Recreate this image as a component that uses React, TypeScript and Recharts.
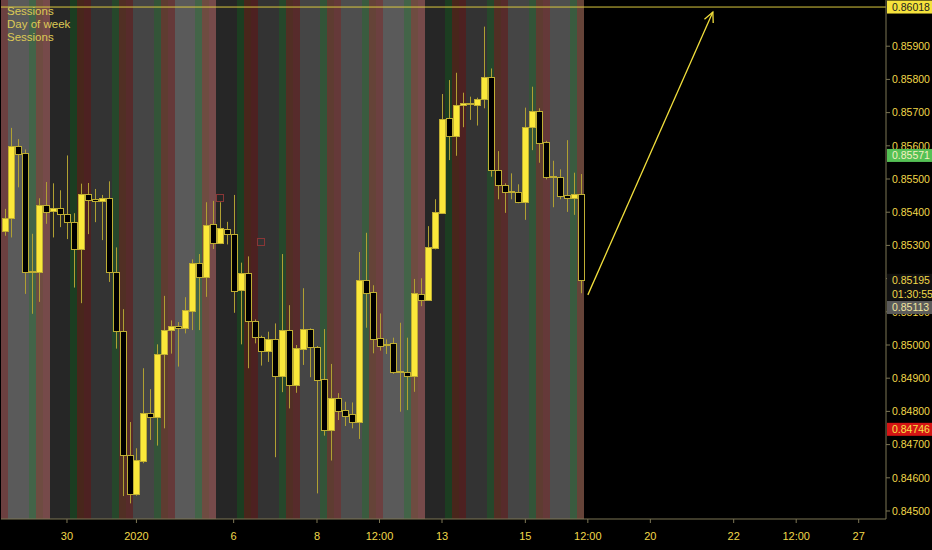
import React from "react";
import { ComposedChart, Bar, Line, XAxis, YAxis, ReferenceLine } from "recharts";

// 4H candles (slot 0 .. 83)
const OPEN = [
  0.85344, 0.85382, 0.856, 0.85577, 0.85221, 0.8522, 0.85421, 0.85404, 0.85412, 0.85395,
  0.8537, 0.85289, 0.85456, 0.8544, 0.85434, 0.85443, 0.85221, 0.85041, 0.8467, 0.84552,
  0.84651, 0.84796, 0.84783, 0.84972, 0.85044, 0.85058, 0.8505, 0.85103, 0.85248, 0.85204,
  0.85364, 0.85306, 0.85348, 0.85333, 0.85165, 0.85216, 0.85073, 0.85024, 0.84981, 0.85017,
  0.84906, 0.85045, 0.8488, 0.84987, 0.85047, 0.84995, 0.84897, 0.84745, 0.84841, 0.84804,
  0.84791, 0.84767, 0.85195, 0.8516, 0.8502, 0.85002, 0.85005, 0.8492, 0.84918, 0.84907,
  0.85154, 0.85136, 0.85291, 0.85398, 0.85683, 0.8563, 0.85722, 0.85728, 0.85724, 0.8574,
  0.85808, 0.85527, 0.85482, 0.85463, 0.8546, 0.85432, 0.85656, 0.85706, 0.85611, 0.85509,
  0.85506, 0.85452, 0.85443, 0.85455,
];
const HIGH = [
  0.8541, 0.85654, 0.8562, 0.85589, 0.85335, 0.85442, 0.85491, 0.85487, 0.85466, 0.85571,
  0.85397, 0.85486, 0.85488, 0.8547, 0.85452, 0.85493, 0.85294, 0.85108, 0.84768, 0.84689,
  0.8493, 0.84867, 0.85002, 0.85148, 0.85074, 0.85069, 0.85144, 0.85258, 0.85274, 0.8543,
  0.85434, 0.8543, 0.85371, 0.85452, 0.85248, 0.85267, 0.85077, 0.85028, 0.8504, 0.85065,
  0.85274, 0.8512, 0.85, 0.85171, 0.8505, 0.84997, 0.85048, 0.84943, 0.84855, 0.84829,
  0.84827, 0.8528, 0.85338, 0.8518, 0.85095, 0.85017, 0.85022, 0.85067, 0.85022, 0.85199,
  0.85201, 0.85358, 0.85439, 0.85756, 0.85798, 0.8582, 0.8576, 0.85748, 0.85745, 0.85959,
  0.85833, 0.85584, 0.85487, 0.85517, 0.85484, 0.85715, 0.85778, 0.85713, 0.85615, 0.85555,
  0.85529, 0.85617, 0.85519, 0.85515,
];
const LOW = [
  0.85329, 0.85324, 0.85475, 0.85154, 0.85094, 0.8513, 0.85365, 0.85324, 0.85355, 0.85319,
  0.85173, 0.85126, 0.85334, 0.8537, 0.85316, 0.8519, 0.84989, 0.84545, 0.84523, 0.84546,
  0.84644, 0.84714, 0.84697, 0.84749, 0.84974, 0.84935, 0.85035, 0.85045, 0.85045, 0.85145,
  0.85289, 0.85304, 0.85303, 0.85097, 0.85002, 0.8493, 0.85005, 0.84938, 0.84949, 0.84662,
  0.84858, 0.84809, 0.84856, 0.8494, 0.84903, 0.84553, 0.84727, 0.84652, 0.84774, 0.84756,
  0.84749, 0.84717, 0.85052, 0.84975, 0.84983, 0.84973, 0.84913, 0.84799, 0.84804, 0.84859,
  0.85117, 0.85133, 0.85288, 0.85395, 0.85557, 0.8557, 0.85656, 0.85678, 0.85661, 0.85713,
  0.85507, 0.85439, 0.85398, 0.85439, 0.85427, 0.85377, 0.85587, 0.85549, 0.85499, 0.85415,
  0.85439, 0.85401, 0.85392, 0.85156,
];
const CLOSE = [
  0.85383, 0.856, 0.85575, 0.85221, 0.85223, 0.85421, 0.85401, 0.85412, 0.85395, 0.8537,
  0.85289, 0.85456, 0.85438, 0.85434, 0.85443, 0.85221, 0.85041, 0.8467, 0.84552, 0.84653,
  0.84796, 0.84783, 0.84973, 0.85045, 0.85057, 0.85052, 0.85105, 0.85248, 0.85204, 0.85361,
  0.85306, 0.85352, 0.85333, 0.85163, 0.85216, 0.85073, 0.85023, 0.84981, 0.85017, 0.84906,
  0.85045, 0.8488, 0.8499, 0.85047, 0.84994, 0.84895, 0.84745, 0.84841, 0.84802, 0.84787,
  0.84767, 0.85195, 0.85158, 0.85018, 0.84998, 0.85001, 0.84918, 0.84921, 0.84907, 0.85156,
  0.85136, 0.85295, 0.85401, 0.85681, 0.8563, 0.85723, 0.85728, 0.85729, 0.85741, 0.85806,
  0.85527, 0.85482, 0.85462, 0.85462, 0.85432, 0.85656, 0.85706, 0.85609, 0.85507, 0.85508,
  0.85449, 0.85442, 0.85455, 0.85195,
];

// "Day of week" indicator: one entry per 6-candle trading day (first one is the day before slot 1)
const DAY_OF_GROUP = ["Thu", "Fri", "Mon", "Tue", "Wed", "Fri", "Mon", "Tue", "Wed", "Thu", "Fri", "Mon", "Tue", "Wed", "Thu"];
// "Sessions" indicator: which session each 4H slot of a trading day falls into
const SESSION_OF_POS = ["", "", "", "london", "overlap", "newyork"];

// little square markers of the second indicator
const MARK_SLOTS = [31, 37];
const MARK_PRICES = [0.85443, 0.8531];

const X_TICKS = [9, 19, 33, 45, 54, 63, 75, 84, 93, 105, 114, 123];
const X_TICK_LABELS = ["30", "2020", "6", "8", "12:00", "13", "15", "12:00", "20", "22", "12:00", "27"];
const Y_TICKS = [0.845, 0.846, 0.847, 0.848, 0.849, 0.85, 0.851, 0.852, 0.853, 0.854, 0.855, 0.856, 0.857, 0.858, 0.859];

const ALERT_PRICE = 0.86018;
const SESSION_HIGH = 0.85571;
const LAST_PRICE = 0.85195;
const COUNTDOWN = "01:30:55";
const PREV_CLOSE = 0.85113;
const SESSION_LOW = 0.84746;

const ARROW_FROM = { slot: 84, price: 0.85151 };
const ARROW_TO = { slot: 102, price: 0.86003 };

const SLOT_COUNT = 127;
const Y_MIN = 0.844759;
const Y_MAX = 0.860392;

const TEXT = "#f0d84a";
const AXIS = "#7d7655";
const BULL = "#fbe83a";
const EDGE = "#bfae34";
const WICK = "#b0a032";
const FONT = "'Liberation Sans Narrow', 'Liberation Sans', Arial, sans-serif";
const CHART_MARGIN = { top: 0, right: 0, bottom: 0, left: 1 };
const X_PAD = { left: 0, right: 3 };

const DAY_SHADE: Record<string, string> = {
  Mon: "#262626",
  Tue: "#333333",
  Wed: "#454545",
  Thu: "#4e4e4e",
  Fri: "#5a5a5a",
};
const SESSION_FILL: Record<string, string> = {
  london: "rgba(0,130,20,0.25)",
  overlap: "rgba(160,40,0,0.28)",
  newyork: "rgba(220,20,20,0.22)",
};

const data = Array.from({ length: SLOT_COUNT }, (_, i) => {
  const has = i < OPEN.length;
  const pos = (((i - 1) % 6) + 6) % 6;
  const group = Math.floor((i - 1) / 6) + 1;
  const m = MARK_SLOTS.indexOf(i);
  return {
    slot: i,
    o: has ? OPEN[i] : null,
    h: has ? HIGH[i] : null,
    l: has ? LOW[i] : null,
    c: has ? CLOSE[i] : null,
    day: DAY_OF_GROUP[group],
    session: SESSION_OF_POS[pos],
    mark: m >= 0 ? MARK_PRICES[m] : null,
  };
});

function Band(props: any) {
  const { x, y, width, height, payload } = props;
  if (!payload || payload.o == null) return null;
  return (
    <g shapeRendering="crispEdges">
      <rect x={x} y={y} width={width} height={height} fill={DAY_SHADE[payload.day]} />
      {payload.session ? (
        <rect x={x} y={y} width={width} height={height} fill={SESSION_FILL[payload.session]} />
      ) : null}
    </g>
  );
}

function Candle(props: any) {
  const { x, y, width, height, payload } = props;
  if (!payload || payload.o == null || !height) return null;
  const { o, h, l, c } = payload;
  const k = height / (h - l);
  const py = (p: number) => y + (h - p) * k;
  const cx = Math.round(x + width / 2) + 0.5;
  const top = Math.round(py(Math.max(o, c))) + 0.5;
  const bot = Math.round(py(Math.min(o, c))) + 0.5;
  return (
    <g>
      <line x1={cx} x2={cx} y1={y} y2={y + height} stroke={WICK} strokeWidth={1} />
      <rect
        x={cx - 3}
        y={top}
        width={6}
        height={Math.max(bot - top, 1)}
        fill={c >= o ? BULL : "#000"}
        stroke={EDGE}
        strokeWidth={1}
      />
    </g>
  );
}

function MarkerDot(props: any) {
  const { cx, cy, value } = props;
  if (value == null || cx == null || cy == null) return <g key={props.key} />;
  return (
    <rect key={props.key} x={Math.round(cx) - 3.5} y={Math.round(cy) - 3.5} width={7} height={7} fill="none" stroke="#8a3636" strokeWidth={1} />
  );
}

function Arrow(props: any) {
  const { x1, y1, x2, y2 } = props;
  if (x1 == null) return null;
  const a = Math.atan2(y2 - y1, x2 - x1);
  const len = 11;
  const spread = 0.45;
  const hx1 = x2 - len * Math.cos(a - spread);
  const hy1 = y2 - len * Math.sin(a - spread);
  const hx2 = x2 - len * Math.cos(a + spread);
  const hy2 = y2 - len * Math.sin(a + spread);
  return (
    <g stroke="#f2df3c" strokeWidth={1.3} fill="none">
      <line x1={x1} y1={y1} x2={x2} y2={y2} />
      <polyline points={`${hx1},${hy1} ${x2},${y2} ${hx2},${hy2}`} />
    </g>
  );
}

function badge(value: number, bg: string, fg: string, extra?: string) {
  return (props: any) => {
    const vb = props.viewBox || {};
    const x = (vb.x ?? 0) + (vb.width ?? 0) + 1;
    const y = vb.y ?? 0;
    const h = extra ? 27 : 13;
    return (
      <g>
        <rect x={x} y={y - 6.5} width={45} height={h} fill={bg} />
        <text x={x + 5} y={y + 4} fill={fg} fontSize={10.5} fontFamily={FONT}>
          {value.toFixed(5)}
        </text>
        {extra ? (
          <text x={x + 5} y={y + 17.5} fill={fg} fontSize={10.5} fontFamily={FONT}>
            {extra}
          </text>
        ) : null}
      </g>
    );
  };
}

const legendStyle: React.CSSProperties = {
  position: "absolute",
  left: 7,
  color: "#dcc955",
  fontSize: 11.5,
  fontFamily: "'Liberation Sans', Arial, sans-serif",
  lineHeight: "13px",
};

// price-scale badges sit on top of the axis labels, so they get their own layer
function PriceBadges() {
  return (
    <ComposedChart width={932} height={550} data={data} margin={CHART_MARGIN}>
      <XAxis xAxisId="main" dataKey="slot" height={31} padding={X_PAD} tick={false} axisLine={false} tickLine={false} />
      <YAxis orientation="right" width={46} type="number" domain={[Y_MIN, Y_MAX]} allowDataOverflow tick={false} axisLine={false} tickLine={false} />
      <ReferenceLine xAxisId="main" y={SESSION_HIGH} stroke="none" label={badge(SESSION_HIGH, "#55c155", "#f4efc0")} />
      <ReferenceLine xAxisId="main" y={LAST_PRICE} stroke="none" label={badge(LAST_PRICE, "#101010", TEXT, COUNTDOWN)} />
      <ReferenceLine xAxisId="main" y={PREV_CLOSE} stroke="none" label={badge(PREV_CLOSE, "#5b5b5b", "#f0e6a0")} />
      <ReferenceLine xAxisId="main" y={SESSION_LOW} stroke="none" label={badge(SESSION_LOW, "#d41414", "#f5e44a")} />
      <ReferenceLine xAxisId="main" y={ALERT_PRICE} stroke="none" label={badge(ALERT_PRICE, "#f5e23c", "#222")} />
    </ComposedChart>
  );
}

export default function App() {
  return (
    <div style={{ position: "relative", width: 932, height: 550, background: "#000" }}>
      <style>{`body{margin:0;background:#000}`}</style>
      <ComposedChart
        width={932}
        height={550}
        data={data}
        margin={CHART_MARGIN}
        barCategoryGap={0}
        barGap={0}
      >
        <XAxis
          xAxisId="main"
          dataKey="slot"
          height={31}
          padding={X_PAD}
          ticks={X_TICKS}
          interval={0}
          tickFormatter={(v: number) => X_TICK_LABELS[X_TICKS.indexOf(v)] ?? ""}
          tick={{ fill: TEXT, fontSize: 11, fontFamily: FONT }}
          tickSize={4}
          tickMargin={9}
          tickLine={{ stroke: AXIS }}
          axisLine={{ stroke: AXIS }}
        />
        <XAxis xAxisId="bg" dataKey="slot" hide height={0} padding={X_PAD} />
        <YAxis
          orientation="right"
          width={46}
          type="number"
          domain={[Y_MIN, Y_MAX]}
          allowDataOverflow
          ticks={Y_TICKS}
          interval={0}
          tickFormatter={(v: number) => v.toFixed(5)}
          tick={{ fill: TEXT, fontSize: 10.5, fontFamily: FONT }}
          tickSize={4}
          tickMargin={2}
          tickLine={{ stroke: AXIS }}
          axisLine={{ stroke: AXIS }}
        />
        <Bar
          xAxisId="bg"
          dataKey={(d: any) => (d.o == null ? null : [Y_MIN, Y_MAX])}
          shape={<Band />}
          isAnimationActive={false}
        />
        <Bar
          xAxisId="main"
          dataKey={(d: any) => (d.o == null ? null : [d.l, d.h])}
          shape={<Candle />}
          isAnimationActive={false}
        />
        <Line
          xAxisId="main"
          dataKey="mark"
          stroke="none"
          dot={<MarkerDot />}
          activeDot={false}
          isAnimationActive={false}
        />
        <ReferenceLine xAxisId="main" y={ALERT_PRICE} stroke="#d9c83e" strokeWidth={1} />
        <ReferenceLine
          xAxisId="main"
          segment={[
            { x: ARROW_FROM.slot, y: ARROW_FROM.price },
            { x: ARROW_TO.slot, y: ARROW_TO.price },
          ]}
          shape={<Arrow />}
          ifOverflow="visible"
        />
      </ComposedChart>
      <div style={{ position: "absolute", left: 0, top: 0, pointerEvents: "none" }}>
        <PriceBadges />
      </div>
      <div style={{ ...legendStyle, top: 5 }}>Sessions</div>
      <div style={{ ...legendStyle, top: 18 }}>Day of week</div>
      <div style={{ ...legendStyle, top: 31 }}>Sessions</div>
    </div>
  );
}
